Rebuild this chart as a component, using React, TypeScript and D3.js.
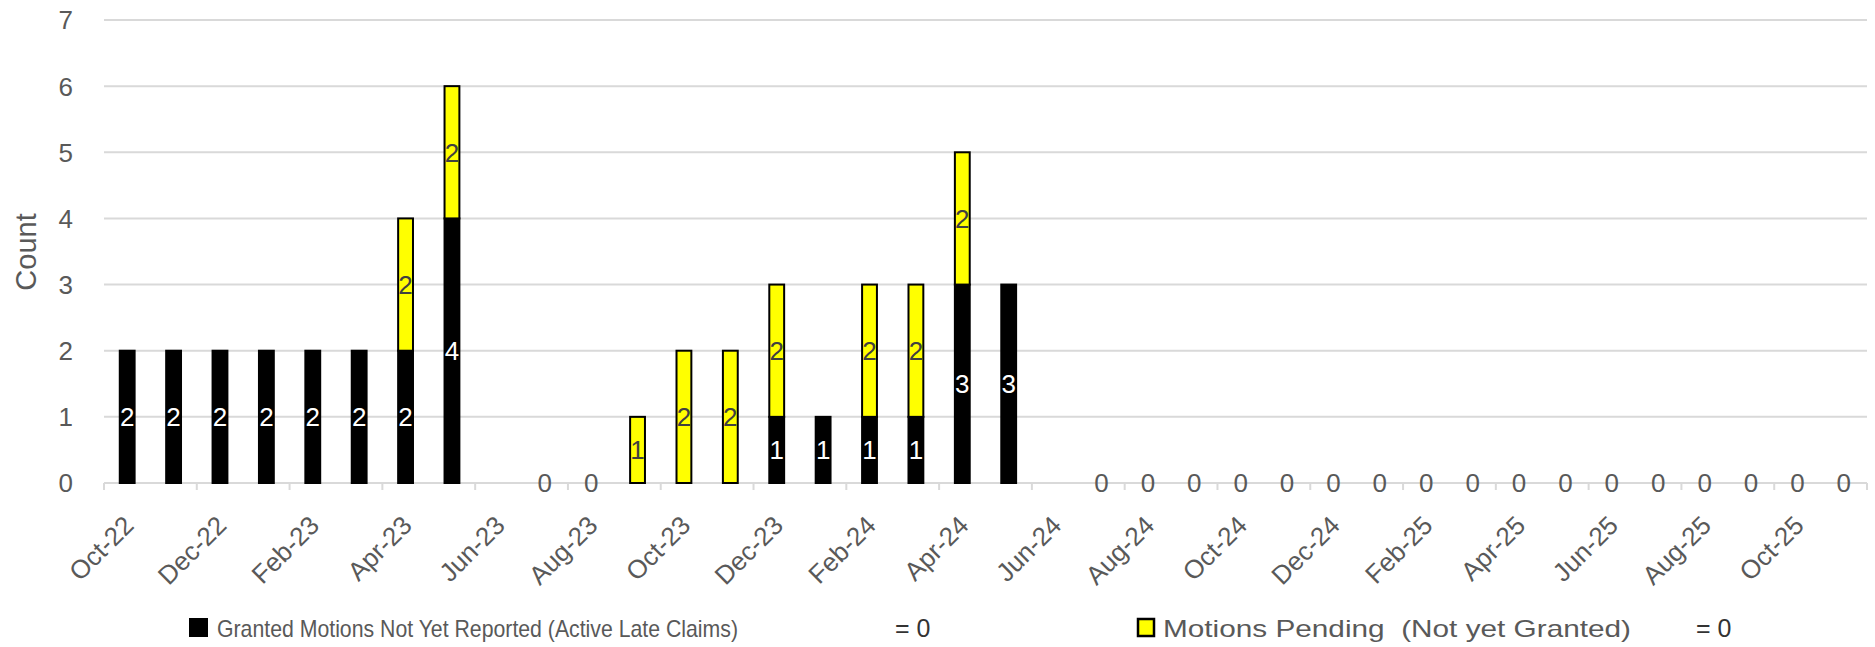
import React, { useEffect } from 'react';
import * as d3 from 'd3';

// monthly categories, Oct-22 .. Nov-25
const months = [
  'Oct-22', 'Nov-22', 'Dec-22', 'Jan-23', 'Feb-23', 'Mar-23', 'Apr-23', 'May-23', 'Jun-23', 'Jul-23',
  'Aug-23', 'Sep-23', 'Oct-23', 'Nov-23', 'Dec-23', 'Jan-24', 'Feb-24', 'Mar-24', 'Apr-24', 'May-24',
  'Jun-24', 'Jul-24', 'Aug-24', 'Sep-24', 'Oct-24', 'Nov-24', 'Dec-24', 'Jan-25', 'Feb-25', 'Mar-25',
  'Apr-25', 'May-25', 'Jun-25', 'Jul-25', 'Aug-25', 'Sep-25', 'Oct-25', 'Nov-25',
];

// Granted Motions Not Yet Reported (black)
const granted: (number | null)[] = [
  2, 2, 2, 2, 2, 2, 2, 4, null, null,
  null, null, null, null, 1, 1, 1, 1, 3, 3,
  null, null, null, null, null, null, null, null, null, null,
  null, null, null, null, null, null, null, null,
];

// Motions Pending (yellow)
const pending: (number | null)[] = [
  null, null, null, null, null, null, 2, 2, null, 0,
  0, 1, 2, 2, 2, null, 2, 2, 2, null,
  null, 0, 0, 0, 0, 0, 0, 0, 0, 0,
  0, 0, 0, 0, 0, 0, 0, 0,
];

const yTicks = [0, 1, 2, 3, 4, 5, 6, 7];

const seriesNames = ['Granted Motions Not Yet Reported (Active Late Claims)', 'Motions Pending  (Not yet Granted)'];
const seriesTotals = ['= 0', '= 0'];

const W = 1875;
const H = 647;
const FONT = '"Liberation Sans", Arial, sans-serif';
const GRAY = '#595959';
const GRID = '#d9d9d9';

export default function App() {
  useEffect(() => {
    document.body.style.margin = '0';
  }, []);

  const x = d3.scaleBand<string>()
    .domain(months)
    .range([104, 1867])
    .paddingInner(0.68)
    .paddingOuter(0.34);

  const y = d3.scaleLinear().domain([0, 7]).range([483, 20]);

  const rows = months.map((m, i) => ({ month: m, granted: granted[i] ?? 0, pending: pending[i] ?? 0 }));
  const stacked = d3.stack<any>().keys(['granted', 'pending'])(rows);
  const raw = [granted, pending];
  const fills = ['#000000', '#ffff00'];
  const labelColors = ['#ffffff', '#404040'];

  const step = x.step();
  const gap = (step - x.bandwidth()) / 2;
  const tickXs = months.filter((_, i) => i % 2 === 0).map(m => (x(m) || 0) - gap).concat([x.range()[1]]);

  return (
    <svg width={W} height={H} style={{ display: 'block', background: '#fff' }} fontFamily={FONT}>
      {/* grid */}
      {yTicks.filter(t => t > 0).map(t => (
        <line key={t} x1={104} x2={1867} y1={y(t)} y2={y(t)} stroke={GRID} strokeWidth={2} />
      ))}
      <line x1={104} x2={1867} y1={y(0)} y2={y(0)} stroke={GRID} strokeWidth={2} />
      {tickXs.map((tx, i) => (
        <line key={i} x1={tx} x2={tx} y1={y(0)} y2={y(0) + 7} stroke={GRID} strokeWidth={2} />
      ))}

      {/* y axis labels */}
      {yTicks.map(t => (
        <text key={t} x={73} y={y(t)} dy="0.36em" textAnchor="end" fontSize={26} fill={GRAY}>{t}</text>
      ))}
      <text transform={`translate(36,252) rotate(-90)`} textAnchor="middle" fontSize={29} fill={GRAY}>Count</text>

      {/* bars */}
      {stacked.map((s, si) => (
        <g key={si}>
          {s.map((d, i) => {
            const h = y(d[0]) - y(d[1]);
            if (h <= 0) return null;
            return (
              <rect key={i} x={x(months[i])} y={y(d[1])} width={x.bandwidth()} height={h}
                fill={fills[si]} stroke="#000" strokeWidth={2} />
            );
          })}
        </g>
      ))}

      {/* data labels */}
      {stacked.map((s, si) => (
        <g key={si}>
          {s.map((d, i) => {
            const v = raw[si][i];
            if (v === null) return null;
            const cx = (x(months[i]) || 0) + x.bandwidth() / 2;
            const cy = y((d[0] + d[1]) / 2);
            return (
              <text key={i} x={cx} y={cy} dy="0.36em" textAnchor="middle" fontSize={26}
                fill={v === 0 ? GRAY : labelColors[si]}>{v}</text>
            );
          })}
        </g>
      ))}

      {/* x axis labels */}
      {months.map((m, i) => {
        if (i % 2 !== 0) return null;
        const cx = (x(m) || 0) + x.bandwidth() / 2;
        return (
          <text key={m} transform={`translate(${cx + 8},${527}) rotate(-45)`} textAnchor="end"
            fontSize={26} fill={GRAY}>{m}</text>
        );
      })}

      {/* legend */}
      <rect x={189} y={618} width={19} height={19} fill="#000" />
      <text x={217} y={637} fontSize={24} fill={GRAY} textLength={521} lengthAdjust="spacingAndGlyphs">{seriesNames[0]}</text>
      <text x={895} y={637} fontSize={25} fill="#333">{seriesTotals[0]}</text>
      <rect x={1138} y={619} width={16} height={17} fill="#ffff00" stroke="#000" strokeWidth={2.5} />
      <text x={1163} y={637} fontSize={24} fill={GRAY} style={{ whiteSpace: 'pre' }} textLength={468} lengthAdjust="spacingAndGlyphs">{seriesNames[1]}</text>
      <text x={1696} y={637} fontSize={25} fill="#333">{seriesTotals[1]}</text>
    </svg>
  );
}
